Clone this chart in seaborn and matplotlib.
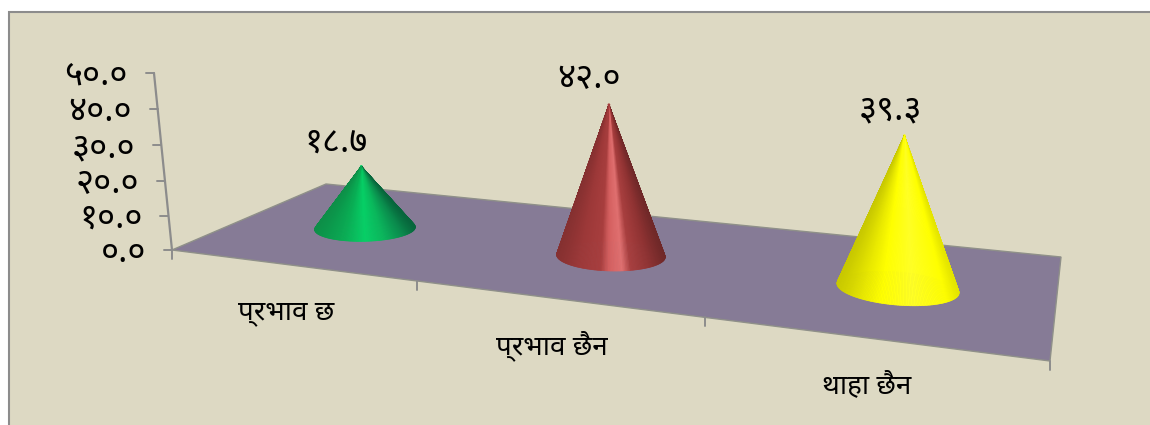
import numpy as np
import pandas as pd
import matplotlib
matplotlib.use("Agg")
import matplotlib.pyplot as plt
from matplotlib.collections import PolyCollection
from matplotlib.colors import LinearSegmentedColormap
from matplotlib.patches import Polygon, Rectangle
import seaborn as sns

categories = ["प्रभाव छ", "प्रभाव छैन", "थाहा छैन"]
values = [18.7, 42.0, 39.3]
value_labels = ["१८.७", "४२.०", "३९.३"]
y_ticks = [0, 10, 20, 30, 40, 50]
y_tick_labels = ["०.०", "१०.०", "२०.०", "३०.०", "४०.०", "५०.०"]

cone_shades = [
    [(0.0, "#0d8f48"), (0.25, "#0aa852"), (0.5, "#06d066"), (0.68, "#0ab85c"), (0.88, "#0a8a4c"), (1.0, "#07663c")],
    [(0.0, "#853030"), (0.2, "#9c3838"), (0.4, "#a83e3e"), (0.48, "#d56060"),
     (0.6, "#e07070"), (0.68, "#a83f3f"), (0.85, "#903333"), (1.0, "#6f2828")],
    [(0.0, "#c8c800"), (0.2, "#e8e800"), (0.36, "#ffff00"), (0.62, "#ffff26"), (0.9, "#ffff00"), (1.0, "#e4e400")],
]

PANEL = "#DDD9C3"
FLOOR = "#867B96"
AXIS = "#8c8c8c"


def solve_camera():
    """Perspective camera: (slot, depth, value) -> picture pixels."""
    src = [(0, 0), (3, 0), (3, 1), (0, 1)]
    dst = [(172, 250), (1050, 361), (1061, 257), (326, 184)]
    rows, rhs = [], []
    for (x, z), (u, v) in zip(src, dst):
        rows.append([x, z, 1, 0, 0, 0, -u * x, -u * z])
        rows.append([0, 0, 0, x, z, 1, -v * x, -v * z])
        rhs += [u, v]
    h = np.append(np.linalg.solve(np.array(rows, float), np.array(rhs, float)), 1).reshape(3, 3)
    # vertical lines of the chart meet far below it
    vp = np.array([670.0, 5140.0, 1.0])
    # scale so that the value 50 at the origin lands on the top of the axis
    lam = (h[1, 2] - 73 * h[2, 2]) / (50 * (73 - vp[1]))
    return h, lam * vp


H, UP = solve_camera()
CONE_DEPTH = 0.48


def project(x, z, v=0.0):
    x, z, v = np.broadcast_arrays(x, z, v)
    p = np.outer(x, H[:, 0]) + np.outer(z, H[:, 1]) + H[:, 2] + np.outer(v, UP)
    return p[:, 0] / p[:, 2], p[:, 1] / p[:, 2]


def draw_cone(ax, slot, value, stops, name):
    theta = np.linspace(0, 2 * np.pi, 241)
    bx, bz = slot + 0.195 * np.cos(theta), CONE_DEPTH + 0.17 * np.sin(theta)
    px, py = project(bx, bz)
    ax_, ay_ = project(slot, CONE_DEPTH, value)
    u = (px - px.min()) / (px.max() - px.min())
    cmap = LinearSegmentedColormap.from_list(name, stops)
    polys, cols, depth = [], [], []
    for i in range(len(theta) - 1):
        polys.append([(ax_[0], ay_[0]), (px[i], py[i]), (px[i + 1], py[i + 1])])
        cols.append(cmap((u[i] + u[i + 1]) / 2))
        depth.append(bz[i] + bz[i + 1])
    order = np.argsort(depth)[::-1]
    coll = PolyCollection([polys[i] for i in order], facecolors=[cols[i] for i in order],
                          edgecolors=[cols[i] for i in order], linewidths=0.5, zorder=4)
    ax.add_collection(coll)


sns.set_theme(style="white")
plt.rcParams["font.family"] = ["Noto Sans", "DejaVu Sans"]

slots = np.arange(len(categories)) + 0.51
tip_x, tip_y = project(slots, CONE_DEPTH, values)
df = pd.DataFrame({"category": categories, "value": values, "tip_x": tip_x, "tip_y": tip_y})

fig = plt.figure(figsize=(11.5, 4.25), dpi=100)
ax = fig.add_axes([0, 0, 1, 1])
ax.set_xlim(0, 1150)
ax.set_ylim(425, 0)
ax.axis("off")

ax.add_patch(Rectangle((8.5, 11.5), 1160, 430, facecolor=PANEL, edgecolor=AXIS, linewidth=1.5, zorder=0))

# floor
fx, fz = [0, 3, 3, 0], [0, 0, 1, 1]
floor_x, floor_y = project(fx, fz)
ax.add_patch(Polygon(np.column_stack([floor_x, floor_y]), closed=True, facecolor=FLOOR,
                     edgecolor="#8f9089", linewidth=1.0, zorder=1))

# value axis
ax_x, ax_y = project(0, 0, y_ticks)
ax.plot(ax_x, ax_y, color=AXIS, linewidth=1.6, zorder=2)
for tx, ty, lab in zip(ax_x, ax_y, y_tick_labels):
    ax.plot([tx - 8, tx], [ty, ty], color=AXIS, linewidth=1.4, zorder=2)
    ax.text(tx - 26, ty + 3, lab, ha="right", va="center", fontsize=25, color="black")

# category axis
edge_x, edge_y = project(np.arange(len(categories) + 1), 0)
for tx, ty in zip(edge_x, edge_y):
    ax.plot([tx, tx], [ty, ty + 9], color=AXIS, linewidth=1.4, zorder=2)
lab_x, lab_y = project(slots, 0)
for lx, ly, lab in zip(lab_x, lab_y, categories):
    ax.text(lx - 6, ly + 47, lab, ha="center", va="center", fontsize=20, color="black")

# tips first, the cones are built up from them
sns.scatterplot(data=df, x="tip_x", y="tip_y", hue="category", s=4, linewidth=0,
                palette=["#05d468", "#a83c3c", "#ffff00"], legend=False, ax=ax, zorder=3)
ax.set_xlim(0, 1150)
ax.set_ylim(425, 0)

for slot, val, stops in zip(slots, values, cone_shades):
    draw_cone(ax, slot, val, stops, "cone%d" % slot)

for tx, ty, lab, dx, dy in zip(df["tip_x"], df["tip_y"], value_labels, [-25, -20, -14], [-24, -26, -25]):
    ax.text(tx + dx, ty + dy, lab, ha="center", va="center", fontsize=25, color="black")

fig.savefig("out.png", dpi=100)
